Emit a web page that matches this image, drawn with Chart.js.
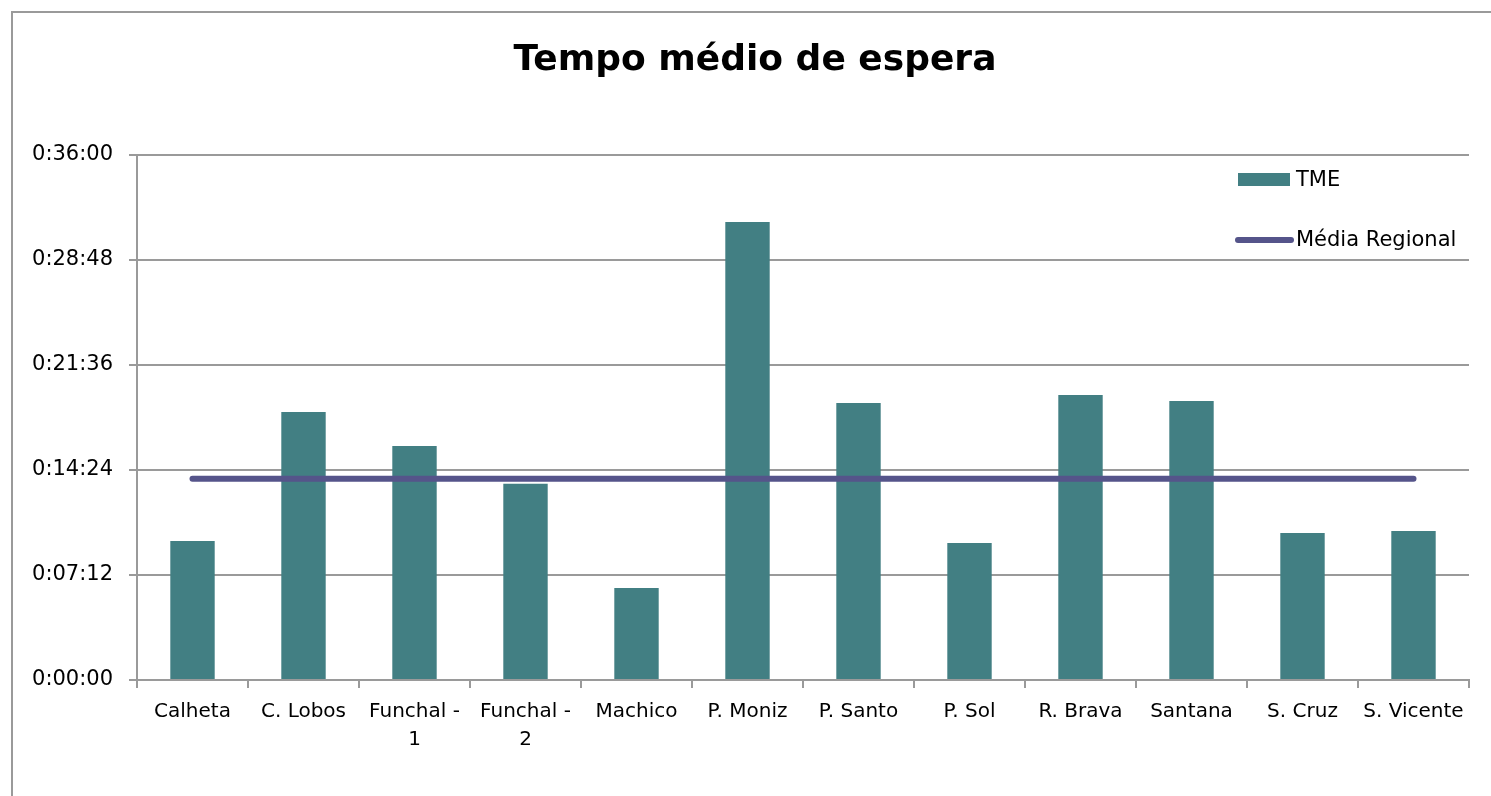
<!DOCTYPE html>
<html>
<head>
<meta charset="utf-8">
<script src="https://cdn.jsdelivr.net/npm/chart.js@4.4.1/dist/chart.umd.min.js"></script>
<style>
  html, body { margin: 0; padding: 0; background: #fff; }
  #wrap { position: relative; width: 1491px; height: 796px; }
  #frame { position: absolute; left: 11px; top: 11px; right: -5px; bottom: -5px;
           border-left: 2px solid #9a9a9a; border-top: 2px solid #9a9a9a; }
  canvas { position: absolute; left: 0; top: 0; }
</style>
</head>
<body>
<div id="wrap">
  <div id="frame"></div>
  <canvas id="chart" width="1491" height="796"></canvas>
</div>
<script>
// Tempo médio de espera por centro (valores em segundos)
const categories = ['Calheta', 'C. Lobos', ['Funchal -', '1'], ['Funchal -', '2'], 'Machico',
    'P. Moniz', 'P. Santo', 'P. Sol', 'R. Brava', 'Santana', 'S. Cruz', 'S. Vicente'];
const tmeValues = [572, 1103, 963, 807, 379, 1884, 1140, 564, 1173, 1148, 605, 613];
const mediaRegional = [828, 828, 828, 828, 828, 828, 828, 828, 828, 828, 828, 828];
const yTicks = [0, 432, 864, 1296, 1728, 2160];
const chartTitle = 'Tempo médio de espera';

const FONT = 'DejaVu Sans';
const barColor = '#427F83';
const lineColor = '#55548A';

function fmtTime(s) {
    const h = Math.floor(s / 3600);
    const m = Math.floor((s % 3600) / 60);
    const sec = Math.round(s % 60);
    return h + ':' + String(m).padStart(2, '0') + ':' + String(sec).padStart(2, '0');
}

// Title (centred on the whole frame) and legend inside the plot area
const extras = {
    id: 'extras',
    afterDatasetsDraw(chart) {
        const ctx = chart.ctx;
        const ds = chart.data.datasets;
        const x0 = 1238, textX = 1296;
        ctx.save();
        ctx.fillStyle = '#000';
        ctx.textAlign = 'center';
        ctx.textBaseline = 'middle';
        ctx.font = 'bold 36px ' + FONT;
        ctx.fillText(chartTitle, 755, 61);

        ctx.textAlign = 'left';
        ctx.font = '21px ' + FONT;
        // TME
        ctx.fillStyle = ds[0].backgroundColor;
        ctx.fillRect(x0, 173, 52, 13);
        ctx.fillStyle = '#000';
        ctx.fillText(ds[0].label, textX, 181);
        // Média Regional
        ctx.strokeStyle = ds[1].borderColor;
        ctx.lineWidth = 6;
        ctx.lineCap = 'round';
        ctx.beginPath();
        ctx.moveTo(x0, 240);
        ctx.lineTo(x0 + 53, 240);
        ctx.stroke();
        ctx.fillText(ds[1].label, textX, 241);
        ctx.restore();
    }
};

new Chart(document.getElementById('chart'), {
    data: {
        labels: categories,
        datasets: [{
            type: 'bar',
            label: 'TME',
            data: tmeValues,
            backgroundColor: barColor,
            categoryPercentage: 0.8,
            barPercentage: 0.5,
            order: 1
        }, {
            type: 'line',
            label: 'Média Regional',
            data: mediaRegional,
            borderColor: lineColor,
            borderWidth: 6,
            borderCapStyle: 'round',
            pointRadius: 0,
            fill: false,
            order: 0
        }]
    },
    options: {
        responsive: false,
        animation: false,
        layout: { padding: { left: 0, right: 22, top: 155, bottom: 0 } },
        plugins: {
            legend: { display: false },
            tooltip: { enabled: false },
            title: { display: false }
        },
        scales: {
            x: {
                offset: true,
                grid: {
                    offset: true,
                    drawOnChartArea: false,
                    drawTicks: true,
                    tickLength: 8,
                    color: '#9a9a9a',
                    lineWidth: 2
                },
                border: { color: '#9a9a9a', width: 2 },
                ticks: {
                    color: '#000',
                    font: { family: FONT, size: 20, lineHeight: 1.4 },
                    maxRotation: 0,
                    autoSkip: false,
                    padding: 10
                },
                afterFit(scale) { scale.height = 116; }
            },
            y: {
                min: 0,
                max: 2160,
                afterBuildTicks(scale) { scale.ticks = yTicks.map(v => ({ value: v })); },
                grid: {
                    color: '#9a9a9a',
                    lineWidth: 2,
                    tickLength: 8
                },
                border: { color: '#9a9a9a', width: 2 },
                ticks: {
                    color: '#000',
                    font: { family: FONT, size: 21 },
                    padding: 16,
                    callback: v => fmtTime(v)
                },
                afterFit(scale) { scale.width = 137; }
            }
        }
    },
    plugins: [extras]
});
</script>
</body>
</html>
